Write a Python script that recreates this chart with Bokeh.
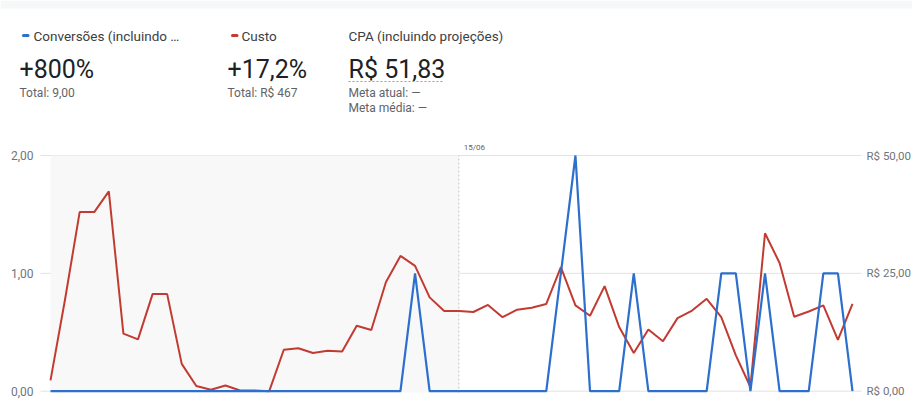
from bokeh.plotting import figure
from bokeh.models import (Range1d, LinearAxis, FixedTicker, CustomJSTickFormatter,
                          ColumnDataSource)
from bokeh.embed import file_html
from bokeh.resources import INLINE
from bokeh.core.properties import value

# ---------------- data ----------------
days = list(range(56))  # 56 daily points; previous period = 0..27, current = 28..55
conversions = [0, 0, 0, 0, 0, 0, 0, 0, 0, 0, 0, 0, 0, 0, 0, 0, 0, 0, 0, 0, 0, 0, 0, 0, 0, 1, 0, 0,
               0, 0, 0, 0, 0, 0, 0, 1, 2, 0, 0, 0, 1, 0, 0, 0, 0, 0, 1, 1, 0, 1, 0, 0, 0, 1, 1, 0]
cost = [2.3, 19.5, 38.0, 38.0, 42.4, 12.2, 11.0, 20.6, 20.6, 5.8, 1.1, 0.3, 1.2, 0.15,
        0.15, 0.0, 8.8, 9.1, 8.1, 8.6, 8.4, 13.9, 13.0, 23.1, 28.7, 26.6, 19.9, 17.0,
        17.0, 16.8, 18.3, 15.7, 17.3, 17.7, 18.5, 26.3, 18.2, 16.0, 22.3, 13.6, 8.1, 13.1,
        10.6, 15.5, 17.1, 19.6, 15.7, 7.6, 0.9, 33.5, 27.2, 15.8, 16.9, 18.2, 10.9, 18.5]
split_index = 28
split_label = "15/06"
left_ticks = [0, 1, 2]
right_ticks = [0, 25, 50]

series_names = ["Conversões (incluindo …", "Custo", "CPA (incluindo projeções)"]
big_values = ["+800%", "+17,2%", "R$ 51,83"]
totals = ["Total: 9,00", "Total: R$ 467"]
meta_lines = ["Meta atual: —", "Meta média: —"]

BLUE = "#2d6fcc"
RED = "#c23b32"
FONT = "Roboto"

# ---------------- layout constants (page pixels) ----------------
W, H = 912, 400
GL, GR = 40, 861                  # grid line extent / axis positions
X0_PX, XN_PX = 50, 852            # first / last day position
Y0_PX, Y2_PX = 390.7, 155         # value 0 / value 2 position
SHADE_BOTTOM_PX = 392

px_per_day = (XN_PX - X0_PX) / (len(days) - 1)
px_per_unit = (Y0_PX - Y2_PX) / 2

def dx(px):
    return (px - X0_PX) / px_per_day

def dy(px):
    return (Y0_PX - px) / px_per_unit

p = figure(width=W, height=H,
           x_range=Range1d(dx(0), dx(W)), y_range=Range1d(dy(H), dy(0)),
           output_backend="svg", toolbar_location=None, min_border=0,
           outline_line_color=None, y_axis_location=None, x_axis_location=None)
p.extra_y_ranges = {"cost": Range1d(dy(H) * 25, dy(0) * 25), "px": Range1d(H, 0)}
p.extra_x_ranges = {"px": Range1d(0, W)}
p.grid.visible = False

fmt_left = CustomJSTickFormatter(code="return tick.toFixed(2).replace('.', ',');")
fmt_right = CustomJSTickFormatter(code="return 'R$ ' + tick.toFixed(2).replace('.', ',');")

ax_l = LinearAxis(ticker=FixedTicker(ticks=left_ticks), formatter=fmt_left,
                  fixed_location=dx(GL))
ax_r = LinearAxis(ticker=FixedTicker(ticks=right_ticks), formatter=fmt_right,
                  y_range_name="cost", fixed_location=dx(GR))
for ax in (ax_l, ax_r):
    ax.axis_line_color = None
    ax.major_tick_line_color = None
    ax.minor_tick_line_color = None
    ax.major_tick_out = 0
    ax.major_tick_in = 0
    ax.minor_tick_out = 0
    ax.major_label_text_font = FONT
    ax.major_label_text_color = "#70757a"
ax_l.major_label_text_font_size = "12px"
ax_l.major_label_standoff = 7
ax_r.major_label_text_font_size = "11.5px"
ax_r.major_label_standoff = 5
p.add_layout(ax_l, "left")
p.add_layout(ax_r, "right")

# horizontal grid lines at the left-axis ticks
p.segment(x0=[dx(GL)] * len(left_ticks), x1=[dx(GR)] * len(left_ticks),
          y0=left_ticks, y1=left_ticks, line_color="#e3e3e3", line_width=1, level="underlay")

# previous-period shading
p.quad(left=[0], right=[split_index], bottom=[dy(SHADE_BOTTOM_PX)], top=[left_ticks[-1]],
       fill_color="#f8f8f8", line_color=None, level="underlay")
# split marker
p.segment(x0=[split_index], y0=[dy(SHADE_BOTTOM_PX)], x1=[split_index], y1=[left_ticks[-1]],
          line_color="#c4c4c4", line_width=1, line_dash="2 2")
p.text(x=[split_index], y=[left_ticks[-1]], text=[split_label], x_offset=5, y_offset=-8,
       text_font=value(FONT), text_font_size="8px", text_color="#5f6368",
       text_baseline="middle", text_align="left")

src = ColumnDataSource(dict(day=days, conv=conversions, cost=cost))
p.line("day", "cost", source=src, line_color=RED, line_width=2, y_range_name="cost")
p.line("day", "conv", source=src, line_color=BLUE, line_width=2.2)

# ---------------- header (page-pixel coordinates) ----------------
def hdr_text(xs, ys, texts, size, color):
    p.text(x=xs, y=ys, text=texts, x_range_name="px", y_range_name="px",
           text_font=value(FONT), text_font_size=size, text_color=color,
           text_align="left", text_baseline="middle")

p.quad(left=[0], right=[W], top=[0], bottom=[8], x_range_name="px", y_range_name="px",
       fill_color="#f6f7f8", line_color=None)
p.segment(x0=[23, 232], x1=[27.5, 236.5], y0=[35, 35], y1=[35, 35],
          x_range_name="px", y_range_name="px",
          line_color=[BLUE, RED], line_width=3, line_cap="round")

name_x = [33, 241, 348]
col_x = [19, 227, 348]
hdr_text(name_x, [35] * 3, series_names, "13.5px", "#3c4043")
hdr_text(col_x, [69] * 3, big_values, "25px", "#202124")
hdr_text(col_x[:2], [92] * 2, totals, "12px", "#5f6368")
hdr_text([col_x[2]] * 2, [92, 107], meta_lines, "12px", "#5f6368")
# dotted underline of the CPA value
p.segment(x0=[348], x1=[443], y0=[81], y1=[81], x_range_name="px", y_range_name="px",
          line_color="#9aa0a6", line_width=1, line_dash="2 2")

open("out.html", "w").write(file_html(p, INLINE))
